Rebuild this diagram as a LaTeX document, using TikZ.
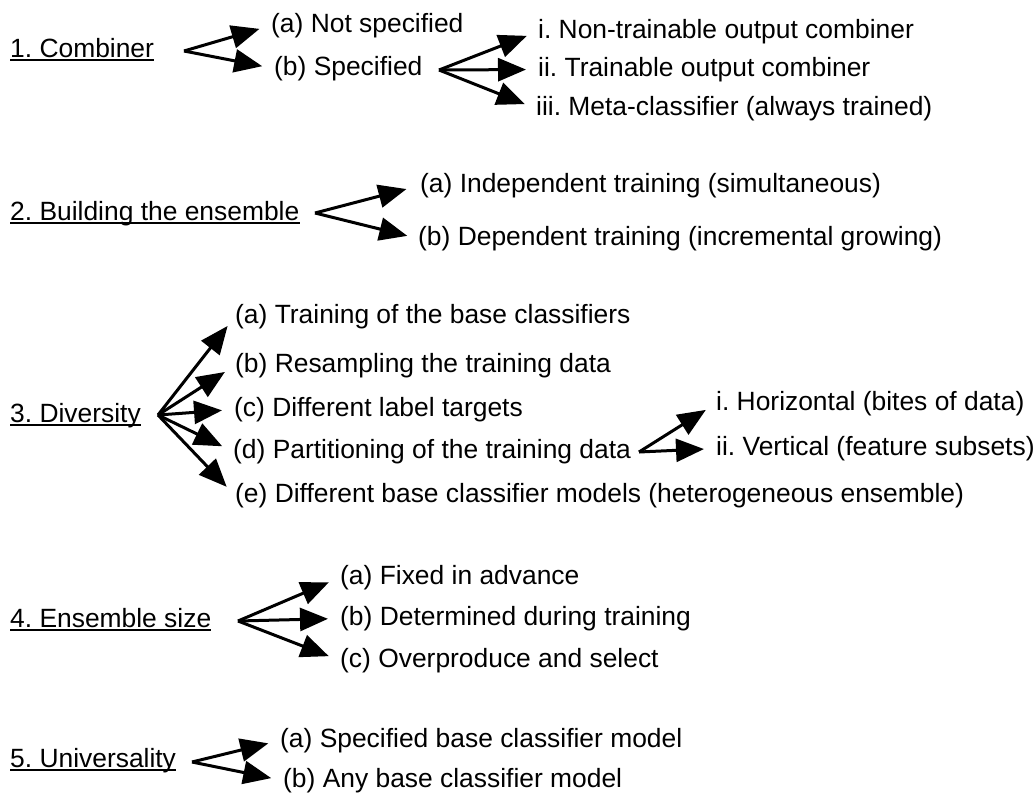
\documentclass[tikz,border=0pt]{standalone}
\usepackage{fontspec}
\setmainfont{Liberation Sans}
\usetikzlibrary{arrows.meta}
\frenchspacing
\begin{document}
\begin{tikzpicture}[x=1pt,y=-1pt,
  txt/.style={anchor=base west,inner sep=0pt,text height=19pt,text depth=6pt,
    font=\fontsize{26.4}{30}\selectfont},
  arr/.style={line width=3pt,-{Triangle[length=28pt,width=23pt]},shorten >=12pt},
  ul/.style={line width=1.8pt}]
\useasboundingbox (0,0) rectangle (1036,795);

% 1. Combiner
\node[txt] (h1) at (10,57) {1. Combiner};
\node[txt] (h1a) at (271,32) {(a) Not specified};
\node[txt] (h1b) at (274,75) {(b) Specified};
\node[txt] (h1bi) at (538,38) {i. Non-trainable output combiner};
\node[txt] (h1bii) at (538,76) {ii. Trainable output combiner};
\node[txt] (h1biii) at (536,115) {iii. Meta-classifier (always trained)};
\coordinate (o1) at (184,51);
\coordinate (o1b) at (439,70);
\draw[arr] (o1) -- (h1a.west);
\draw[arr] (o1) -- (h1b.west);
\draw[arr] (o1b) -- (h1bi.west);
\draw[arr] (o1b) -- (h1bii.west);
\draw[arr] (o1b) -- (h1biii.west);

% 2. Building the ensemble
\node[txt] (h2) at (10,220) {2. Building the ensemble};
\node[txt] (h2a) at (420,192) {(a) Independent training (simultaneous)};
\node[txt] (h2b) at (418,245) {(b) Dependent training (incremental growing)};
\coordinate (o2) at (315,213);
\draw[arr,shorten >=14pt] (o2) -- (h2a.west);
\draw[arr,shorten >=11pt] (o2) -- (h2b.west);

% 3. Diversity
\node[txt] (h3) at (10,422) {3. Diversity};
\node[txt] (h3a) at (235,323) {(a) Training of the base classifiers};
\node[txt] (h3b) at (235,372) {(b) Resampling the training data};
\node[txt] (h3c) at (234,416) {(c) Different label targets};
\node[txt] (h3d) at (233,458) {(d) Partitioning of the training data};
\node[txt] (h3e) at (235,502) {(e) Different base classifier models (heterogeneous ensemble)};
\node[txt] (h3di) at (716,410) {i. Horizontal (bites of data)};
\node[txt] (h3dii) at (716,455) {ii. Vertical (feature subsets)};
\coordinate (o3) at (158,415);
\coordinate (o3d) at (639,452);
\foreach \t in {h3a,h3b,h3c,h3d,h3e} \draw[arr] (o3) -- (\t.west);
\draw[arr] (o3d) -- (h3di.west);
\draw[arr] (o3d) -- (h3dii.west);

% 4. Ensemble size
\node[txt] (h4) at (10,627) {4. Ensemble size};
\node[txt] (h4a) at (340,584) {(a) Fixed in advance};
\node[txt] (h4b) at (340,625) {(b) Determined during training};
\node[txt] (h4c) at (340,667) {(c) Overproduce and select};
\coordinate (o4) at (238,621);
\foreach \t in {h4a,h4b,h4c} \draw[arr] (o4) -- (\t.west);

% 5. Universality
\node[txt] (h5) at (10,767) {5. Universality};
\node[txt] (h5a) at (280,747) {(a) Specified base classifier model};
\node[txt] (h5b) at (283,787) {(b) Any base classifier model};
\coordinate (o5) at (192,762);
\draw[arr] (o5) -- (h5a.west);
\draw[arr] (o5) -- (h5b.west);

% underlines of the section headings
\foreach \h in {h1,h2,h3,h4,h5}
  \draw[ul] ([yshift=-3pt]\h.base west) -- ([yshift=-3pt]\h.base east);
\end{tikzpicture}
\end{document}
